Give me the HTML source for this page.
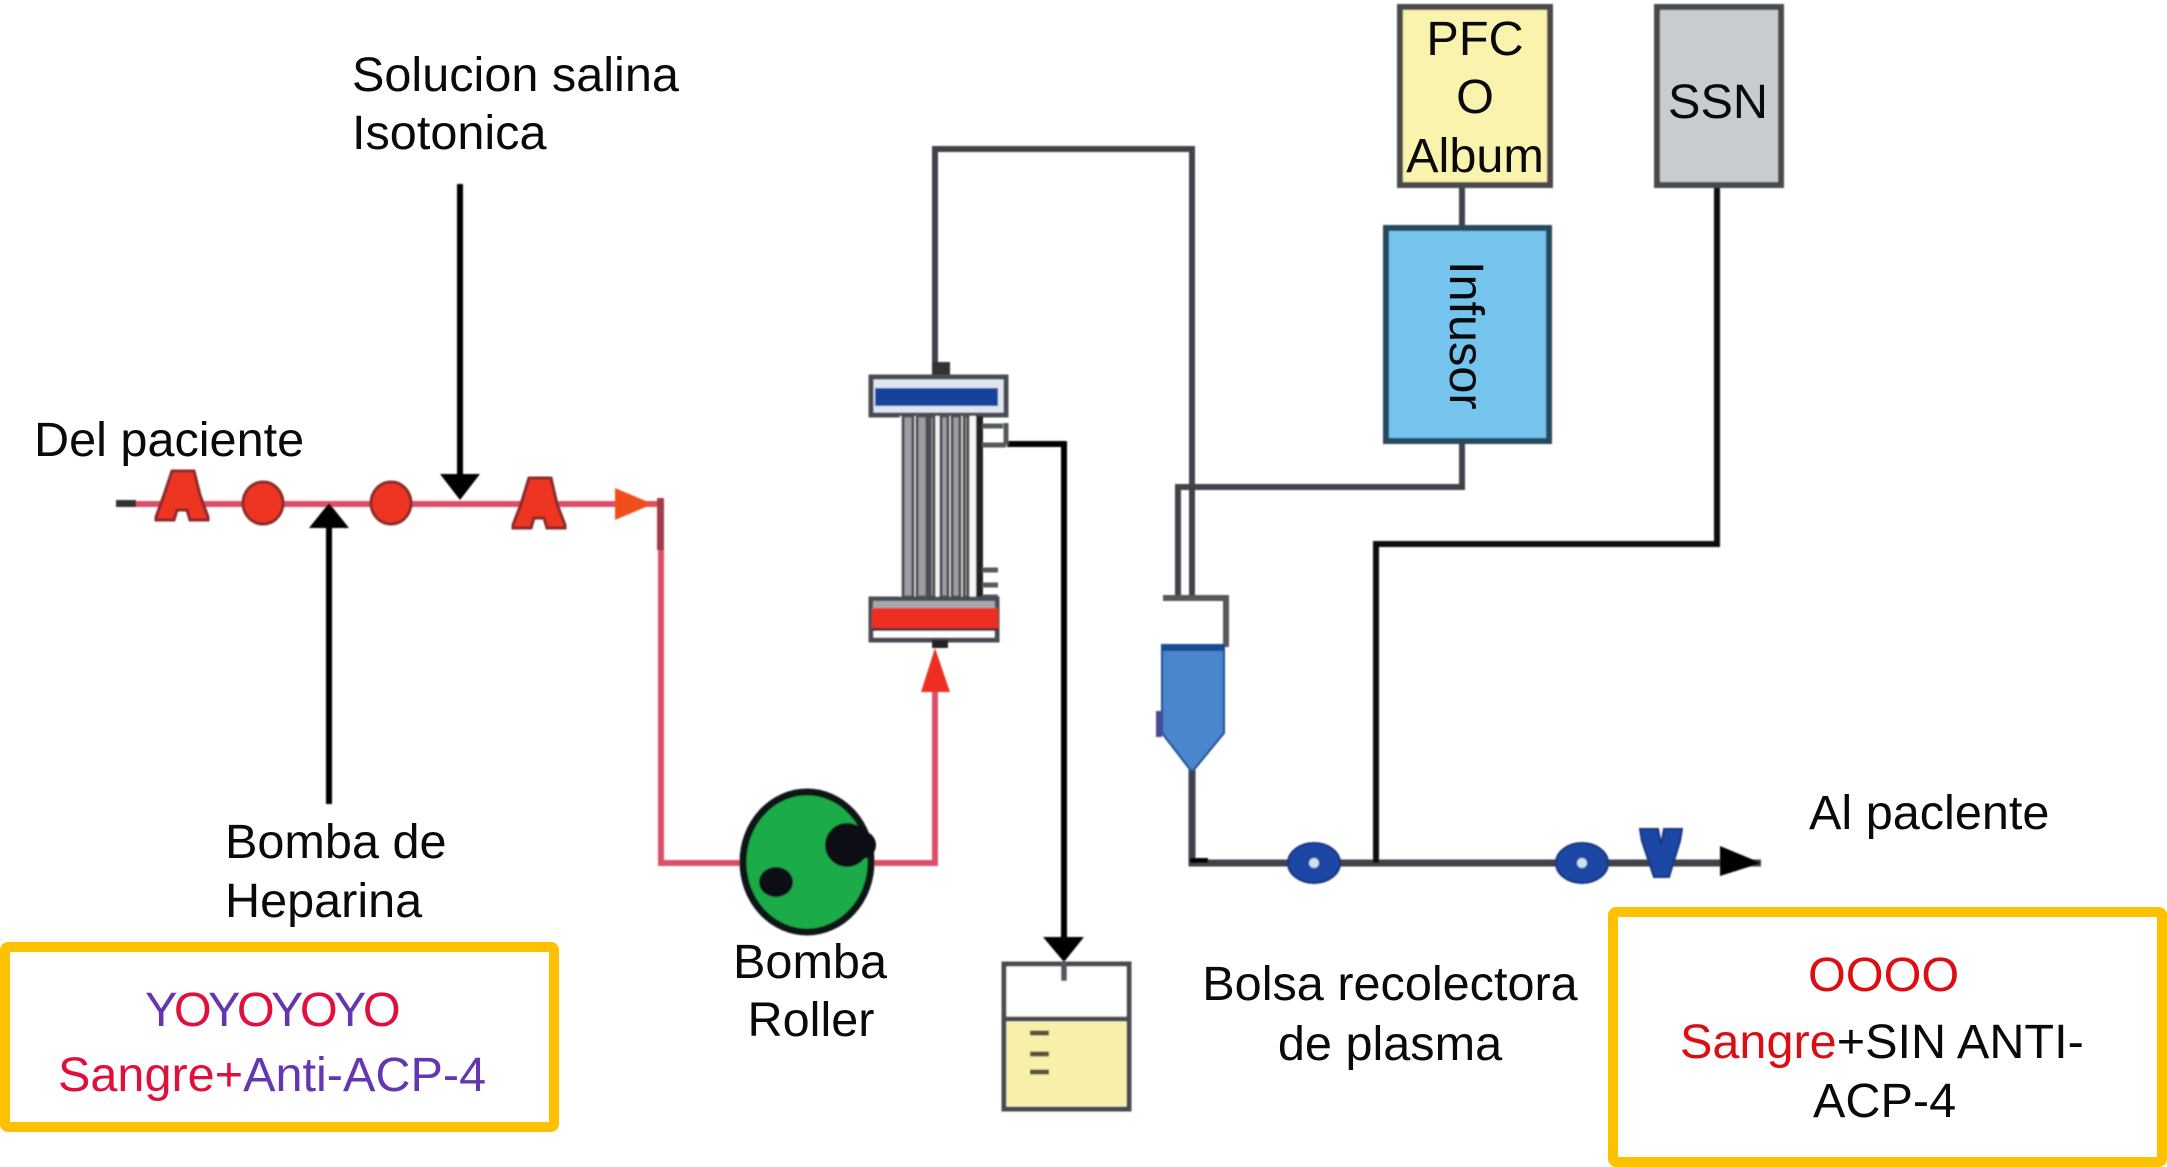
<!DOCTYPE html>
<html><head><meta charset="utf-8">
<style>html,body{margin:0;padding:0;background:#fff}svg{display:block}text{font-family:"Liberation Sans",sans-serif;font-size:48.6px;fill:#0a0a0a}</style>
</head><body>
<svg width="2167" height="1167" viewBox="0 0 2167 1167" xmlns="http://www.w3.org/2000/svg">
<defs><filter id="b" x="-2%" y="-2%" width="104%" height="104%"><feGaussianBlur stdDeviation="0.8"/></filter></defs>
<g filter="url(#b)">
<!-- red circuit -->
<g fill="none" stroke="#dc4f68" stroke-width="6">
<path d="M130 504H661V863H935V680"/>
</g>
<rect x="116" y="500" width="20" height="7" fill="#333"/>
<rect x="657" y="498" width="7" height="52" fill="#a03a48"/>
<g fill="#ee3524" stroke="#8a2a28" stroke-width="3">
<path d="M172 471h22l6 24 8 22v3h-18l-3-10h-10l-3 10h-18v-3l8-22z"/>
<ellipse cx="263" cy="503" rx="20" ry="21"/>
<ellipse cx="391" cy="503" rx="20" ry="21"/>
<path d="M529 478h22l6 26 8 21v3h-18l-3-10h-10l-3 10h-18v-3l8-21z"/>
</g>
<path d="M615 488L653 504L615 520Z" fill="#f0501e"/>
<path d="M935 648L921 692H950Z" fill="#ee2d24"/>
<!-- black arrows -->
<path d="M460 184V478" stroke="#000" stroke-width="6" fill="none"/>
<path d="M440 474H480L460 500Z" fill="#000"/>
<path d="M329 804V525" stroke="#000" stroke-width="6" fill="none"/>
<path d="M309 528H349L329 503Z" fill="#000"/>
<!-- gray/black tubing -->
<g fill="none" stroke="#3f4348" stroke-width="6">
<path d="M935 375V149H1192V598"/>
<path d="M1178 598V487H1462V443"/>
<path d="M1462 187V226"/>
<path d="M1192 770V863H1761" stroke-width="7"/>
<path d="M1376 863V544H1717V187" stroke="#111"/>
</g>
<rect x="1190" y="858" width="18" height="5" fill="#000"/>
<path d="M1007 444H1064V945" fill="none" stroke="#000" stroke-width="6"/>
<path d="M1043 937H1084L1064 962Z" fill="#000"/>
<!-- filter -->
<rect x="932" y="362" width="18" height="14" fill="#333"/>
<rect x="871" y="377" width="135" height="38" fill="#dfe6f2" stroke="#4a4e52" stroke-width="5"/>
<rect x="875" y="388" width="123" height="18" fill="#15439b"/>
<rect x="900" y="416" width="80" height="181" fill="#f6f6f6"/>
<g fill="#9c9ea2" stroke="#4b4e52" stroke-width="3">
<rect x="903" y="416" width="10" height="181"/><rect x="917" y="416" width="10" height="181"/><rect x="930" y="416" width="4" height="181"/>
<rect x="941" y="416" width="7" height="181"/><rect x="952" y="416" width="8" height="181"/><rect x="964" y="416" width="4" height="181"/>
</g>
<rect x="976" y="416" width="7" height="183" fill="#222"/>
<path d="M982 426H1003M982 445H1006M1006 423V445M982 570H998M982 585H998M982 597H998" fill="none" stroke="#55585c" stroke-width="5"/>
<rect x="871" y="599" width="126" height="41" fill="#fff" stroke="#4a4e52" stroke-width="5"/>
<rect x="873" y="601" width="122" height="9" fill="#a5a7aa"/>
<rect x="872" y="608" width="126" height="20" fill="#ee2d24"/>
<rect x="872" y="628" width="126" height="3" fill="#5a3236"/>
<rect x="932" y="640" width="16" height="8" fill="#222"/>
<!-- drip chamber -->
<path d="M1163 598H1226V647" fill="none" stroke="#55585c" stroke-width="6"/>
<path d="M1162 645H1224V733L1192 772L1162 733Z" fill="#4a86cc" stroke="#1c4e94" stroke-width="2"/>
<rect x="1162" y="645" width="62" height="6" fill="#154a96"/>
<rect x="1156" y="711" width="6" height="26" fill="#4b4a9a"/>
<!-- pump -->
<ellipse cx="807" cy="862" rx="64" ry="70" fill="#1dab49" stroke="#0d1512" stroke-width="7"/>
<circle cx="847" cy="845" r="22" fill="#0d0d14"/>
<circle cx="862" cy="845" r="14" fill="#0d0d14"/>
<ellipse cx="776" cy="882" rx="17" ry="15" fill="#0d0d14"/>
<!-- collection bag -->
<rect x="1004" y="964" width="125" height="145" fill="#fff" stroke="#4a4c4e" stroke-width="5"/>
<rect x="1007" y="1022" width="119" height="84" fill="#f8f0a8"/>
<path d="M1004 1019H1129" stroke="#4a4c4e" stroke-width="5"/>
<path d="M1064 962V981" stroke="#55585c" stroke-width="6"/>
<path d="M1030 1033H1049M1030 1054H1049M1030 1072H1049" stroke="#55533c" stroke-width="5"/>
<!-- blue valves on return line -->
<g fill="#1a46a4" stroke="#143580" stroke-width="2">
<ellipse cx="1314" cy="863" rx="26" ry="20"/>
<ellipse cx="1582" cy="863" rx="26" ry="20"/>
<path d="M1640 829h18l3 16 3-16h18l-2 12-11 36h-15l-12-36z"/>
</g>
<circle cx="1314" cy="863" r="5" fill="#cfe0f0"/>
<circle cx="1582" cy="863" r="5" fill="#cfe0f0"/>
<path d="M1720 846L1761 863L1720 876Z" fill="#000"/>
<!-- boxes top -->
<rect x="1400" y="7" width="150" height="178" fill="#faf3ae" stroke="#4a4a48" stroke-width="6"/>
<rect x="1657" y="7" width="124" height="178" fill="#c6ccd0" stroke="#47494b" stroke-width="6"/>
<rect x="1386" y="228" width="163" height="213" fill="#74c4ee" stroke="#254a5c" stroke-width="6"/>
</g>
<g text-anchor="middle">
<text x="1475" y="55">PFC</text>
<text x="1475" y="113">O</text>
<text x="1475" y="172">Album</text>
<text x="1718" y="118">SSN</text>
</g>
<text transform="translate(1450,261) rotate(90)">Infusor</text>
<!-- labels -->
<text x="352" y="91">Solucion salina</text>
<text x="352" y="149">Isotonica</text>
<text x="34" y="456">Del paciente</text>
<text x="225" y="858">Bomba de</text>
<text x="225" y="917">Heparina</text>
<g text-anchor="middle">
<text x="810" y="978">Bomba</text>
<text x="811" y="1036">Roller</text>
<text x="1390" y="1000">Bolsa recolectora</text>
<text x="1390" y="1060">de plasma</text>
</g>
<text x="1809" y="829">Al paclente</text>
<!-- legend boxes -->
<rect x="5" y="947" width="549" height="180" rx="3" fill="none" stroke="#fdc100" stroke-width="10"/>
<rect x="1613" y="912" width="549" height="250" rx="3" fill="none" stroke="#fdc100" stroke-width="10"/>
<text x="145" y="1026" letter-spacing="-3.6"><tspan style="fill:#6436b0">Y</tspan><tspan style="fill:#e0103c">O</tspan><tspan style="fill:#6436b0">Y</tspan><tspan style="fill:#e0103c">O</tspan><tspan style="fill:#6436b0">Y</tspan><tspan style="fill:#e0103c">O</tspan><tspan style="fill:#6436b0">Y</tspan><tspan style="fill:#e0103c">O</tspan></text>
<text x="58" y="1091"><tspan style="fill:#e0103c">Sangre+</tspan><tspan style="fill:#6436b0">Anti-ACP-4</tspan></text>
<text x="1808" y="991" style="fill:#dc0e14">OOOO</text>
<text x="1680" y="1058"><tspan style="fill:#dc0e14">Sangre</tspan>+SIN ANTI-</text>
<text x="1813" y="1117">ACP-4</text>
</svg>
</body></html>
